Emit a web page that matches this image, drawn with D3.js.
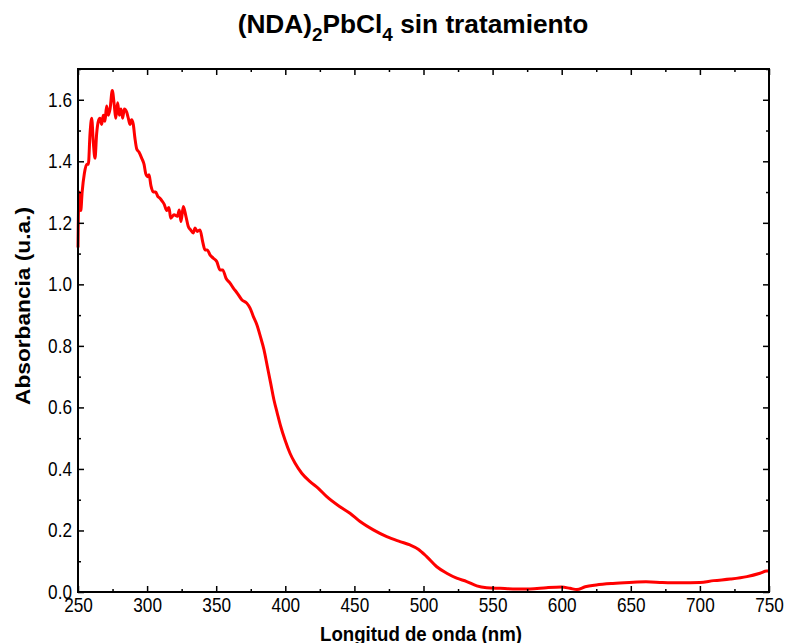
<!DOCTYPE html>
<html>
<head>
<meta charset="utf-8">
<script src="https://cdn.jsdelivr.net/npm/d3@7"></script>
<style>
  html, body { margin: 0; padding: 0; background: #fff; }
  svg { display: block; }
  text { font-family: "Liberation Sans", Arial, sans-serif; fill: #000; }
</style>
</head>
<body>
<svg id="chart" width="786" height="643"></svg>
<script>
// ---- data ----
const wavelength = [
  250, 250.7, 252, 253, 254.6, 256.3, 257.5, 258.7, 259.9, 261.1, 262.3, 263.5, 264.7, 265.9,
  267.1, 268.3, 269.5, 270.7, 271.9, 273.2, 274.8, 276.3, 277.3, 278.7, 279.9, 281.1, 282.3,
  283.5, 285.2, 286.4, 287.6, 288.8, 290, 291.2, 292.5, 294.1, 296.1, 297.8, 299, 300.4, 301.4,
  302.8, 304.5, 306.2, 307.7, 309.3, 311, 312.4, 314.2, 315.8, 317.1, 319.5, 321.9, 323.3,
  324.5, 326.2, 328.1, 329.8, 331.5, 333.4, 334.7, 336.3, 338.3, 340.2, 341.9, 343.6, 345.5,
  347.9, 350.4, 352.7, 354.7, 357.1, 360, 362.4, 365.3, 368.5, 372.1, 374.5, 376.9, 379.3,
  382, 384.6, 387, 389.4, 391.8, 394.2, 396.7, 399.8, 403.4, 407, 411.9, 417.9, 423.9, 430,
  439.6, 446.8, 454.1, 463.7, 473.4, 483, 490.2, 496.2, 502.3, 509.6, 516.8, 524, 531.3,
  538.5, 545.7, 555.4, 567.4, 577, 589, 600, 606, 611, 617, 625, 637, 649, 661, 673, 686,
  700, 710, 722, 734, 743.5, 748.3, 750
];
const absorbance = [
  1.12, 1.30, 1.24, 1.30, 1.36, 1.39, 1.39, 1.49, 1.54, 1.46, 1.41, 1.49, 1.53, 1.54,
  1.52, 1.55, 1.53, 1.58, 1.55, 1.57, 1.63, 1.58, 1.54, 1.59, 1.55, 1.57, 1.54,
  1.57, 1.56, 1.54, 1.52, 1.535, 1.52, 1.475, 1.44, 1.43, 1.41, 1.39, 1.36, 1.35, 1.356,
  1.32, 1.30, 1.30, 1.286, 1.28, 1.27, 1.26, 1.24, 1.25, 1.215, 1.226, 1.221, 1.242,
  1.204, 1.253, 1.221, 1.188, 1.177, 1.167, 1.183, 1.172, 1.177, 1.139, 1.112, 1.112, 1.096,
  1.085, 1.074, 1.047, 1.047, 1.020, 1.004, 0.988, 0.971, 0.950, 0.939, 0.923, 0.895, 0.87,
  0.83, 0.787, 0.733, 0.679, 0.624, 0.581, 0.538, 0.494, 0.451, 0.419, 0.386, 0.359, 0.337, 0.310,
  0.277, 0.256, 0.229, 0.202, 0.180, 0.164, 0.153, 0.139, 0.115, 0.082, 0.061, 0.045, 0.034,
  0.020, 0.014, 0.012, 0.010, 0.010, 0.014, 0.016, 0.012, 0.008, 0.017, 0.023, 0.028, 0.031, 0.033, 0.031, 0.030,
  0.031, 0.037, 0.042, 0.050, 0.061, 0.068, 0.068
];
const xMajorTicks = [250, 300, 350, 400, 450, 500, 550, 600, 650, 700, 750];
const xMinorTicks = [275, 325, 375, 425, 475, 525, 575, 625, 675, 725];
const yMajorTicks = [0.0, 0.2, 0.4, 0.6, 0.8, 1.0, 1.2, 1.4, 1.6];
const yMinorTicks = [0.1, 0.3, 0.5, 0.7, 0.9, 1.1, 1.3, 1.5, 1.7];
const xDomain = [250, 750];
const yDomain = [0, 1.7];
const titleParts = [
  { t: "(NDA)", sub: false }, { t: "2", sub: true }, { t: "PbCl", sub: false },
  { t: "4", sub: true }, { t: " sin tratamiento", sub: false }
];
const xLabel = "Longitud de onda (nm)";
const yLabel = "Absorbancia (u.a.)";

// ---- layout ----
const W = 786, H = 643;
const margin = { top: 69, right: 17, bottom: 51, left: 78 };
const iw = W - margin.left - margin.right;
const ih = H - margin.top - margin.bottom;
const narrow = 0.86;   // horizontal squeeze to imitate a narrow face

const svg = d3.select("#chart");
const g = svg.append("g").attr("transform", `translate(${margin.left},${margin.top})`);

const x = d3.scaleLinear().domain(xDomain).range([0, iw]);
const y = d3.scaleLinear().domain(yDomain).range([ih, 0]);

const data = wavelength.map((w, i) => ({ w, a: absorbance[i] }));

// curve
g.append("path")
  .datum(data)
  .attr("fill", "none")
  .attr("stroke", "#ff0000")
  .attr("stroke-width", 3)
  .attr("stroke-linejoin", "round")
  .attr("d", d3.line().x(d => x(d.w)).y(d => y(d.a)).curve(d3.curveMonotoneX));

// axes helpers
function styleAxis(sel) {
  sel.select(".domain").remove();
  sel.selectAll(".tick line").attr("stroke", "#000").attr("stroke-width", 1.5);
  sel.selectAll(".tick text").attr("font-size", 20).attr("fill", "#000")
     .attr("font-family", '"Liberation Sans", Arial, sans-serif')
     .each(function () {
       const x0 = +d3.select(this).attr("x") || 0;
       d3.select(this).attr("transform", `translate(${x0},0) scale(${narrow},1) translate(${-x0},0)`);
     });
}

// bottom
g.append("g").attr("transform", `translate(0,${ih})`)
  .call(d3.axisBottom(x).tickValues(xMajorTicks).tickSize(-6).tickPadding(6).tickFormat(d3.format("d")))
  .call(styleAxis);
g.append("g").attr("transform", `translate(0,${ih})`)
  .call(d3.axisBottom(x).tickValues(xMinorTicks).tickSize(-3).tickFormat(""))
  .call(styleAxis);
// top
g.append("g")
  .call(d3.axisTop(x).tickValues(xMajorTicks).tickSize(-6).tickFormat(""))
  .call(styleAxis);
g.append("g")
  .call(d3.axisTop(x).tickValues(xMinorTicks).tickSize(-3).tickFormat(""))
  .call(styleAxis);
// left
g.append("g")
  .call(d3.axisLeft(y).tickValues(yMajorTicks).tickSize(-6).tickPadding(6).tickFormat(d3.format(".1f")))
  .call(styleAxis);
g.append("g")
  .call(d3.axisLeft(y).tickValues(yMinorTicks).tickSize(-3).tickFormat(""))
  .call(styleAxis);
// right
g.append("g").attr("transform", `translate(${iw},0)`)
  .call(d3.axisRight(y).tickValues(yMajorTicks).tickSize(-6).tickFormat(""))
  .call(styleAxis);
g.append("g").attr("transform", `translate(${iw},0)`)
  .call(d3.axisRight(y).tickValues(yMinorTicks).tickSize(-3).tickFormat(""))
  .call(styleAxis);

// frame
g.append("rect")
  .attr("x", 0).attr("y", 0).attr("width", iw).attr("height", ih)
  .attr("fill", "none").attr("stroke", "#000").attr("stroke-width", 2);

// helper: fit a text (anchored middle at 0) to a target width by horizontal scaling
function fitWidth(textSel, target) {
  const w = textSel.node().getBBox().width;
  return w > 0 ? target / w : 1;
}

// title
const titleG = svg.append("g");
const title = titleG.append("text")
  .attr("x", 0).attr("y", 0)
  .attr("text-anchor", "middle")
  .attr("font-size", 25).attr("font-weight", "bold");
titleParts.forEach((p, i) => {
  const prev = i > 0 ? titleParts[i - 1] : null;
  title.append("tspan").text(p.t)
    .attr("font-size", p.sub ? 18 : 25)
    .attr("dy", p.sub ? 8 : (prev && prev.sub ? -8 : 0));
});
titleG.attr("transform", `translate(413,33) scale(${fitWidth(title, 351)},1)`);

// axis labels
const xlG = svg.append("g");
const xl = xlG.append("text")
  .attr("text-anchor", "middle")
  .attr("font-size", 21).attr("font-weight", "bold")
  .text(xLabel);
xlG.attr("transform", `translate(421,641) scale(${fitWidth(xl, 202)},1)`);

const ylG = svg.append("g");
const yl = ylG.append("text")
  .attr("text-anchor", "middle")
  .attr("font-size", 21).attr("font-weight", "bold")
  .text(yLabel);
ylG.attr("transform", `translate(30,306) rotate(-90) scale(${fitWidth(yl, 198)},1)`);
</script>
</body>
</html>
